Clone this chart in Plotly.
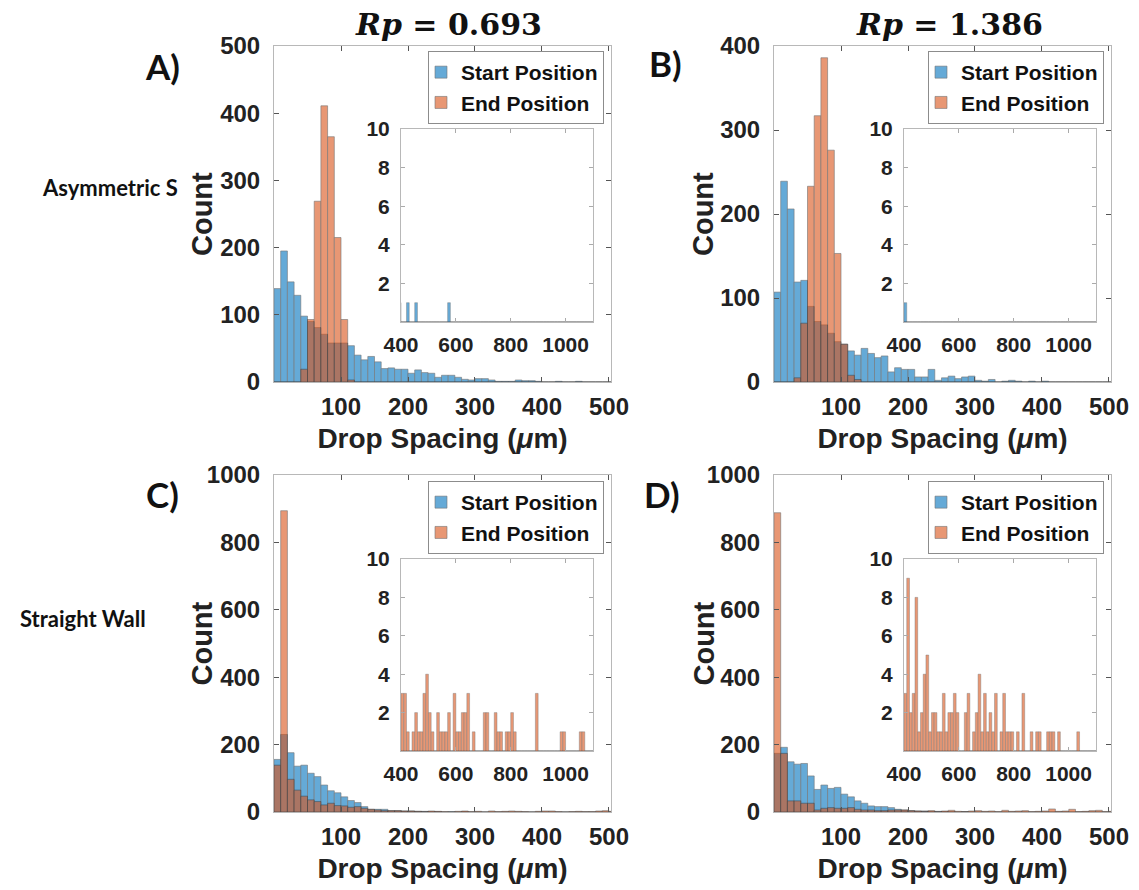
import plotly.graph_objects as go

W, H = 1139, 890
BLUE = "#0072BD"
ORANGE = "#D95319"
SANS = "Liberation Sans, Arial, sans-serif"

# ---------------- data: histogram counts, bin width 10 um ----------------
BIN = 10
lo_bin_left = list(range(0, 400, BIN))        # 0..390
all_bin_left = list(range(0, 1100, BIN))      # 0..1090

# Panel A (Asymmetric S, Rp = 0.693)
a_start_lo = [139, 195, 149, 129, 98, 90, 81, 71, 58, 58,
              58, 54, 40, 33, 38, 30, 20, 21, 19, 19,
              13, 18, 14, 13, 7, 10, 10, 7, 4, 3,
              5, 5, 3, 1, 1, 1, 3, 2, 2, 1]
a_end_lo = [0, 0, 0, 0, 19, 93, 269, 411, 365, 215,
            93, 3, 0, 0, 0, 0, 0, 0, 0, 0,
            0, 0, 0, 0, 0, 0, 0, 0, 0, 0,
            0, 0, 0, 0, 0, 0, 0, 0, 0, 0]
a_start_tail = {420: 1, 450: 1, 570: 1}
a_end_tail = {}

# Panel B (Asymmetric S, Rp = 1.386)
b_start_lo = [107, 239, 206, 119, 121, 90, 72, 68, 58, 48,
              45, 37, 32, 40, 34, 29, 31, 12, 17, 15,
              15, 6, 6, 15, 2, 5, 7, 4, 6, 7,
              2, 1, 3, 0, 1, 2, 1, 0, 1, 0]
b_end_lo = [0, 0, 0, 5, 70, 233, 317, 386, 276, 153,
            45, 8, 3, 0, 0, 0, 0, 0, 0, 0,
            0, 0, 0, 0, 0, 0, 0, 0, 0, 0,
            0, 0, 0, 0, 0, 0, 0, 0, 0, 0]
b_start_tail = {400: 1}
b_end_tail = {}

# Panel C (Straight Wall, Rp = 0.693)
c_start_lo = [156, 230, 176, 136, 139, 115, 105, 80, 63, 57,
              45, 34, 28, 16, 8, 8, 8, 4, 4, 3,
              3, 2, 2, 1, 1, 0, 1, 0, 1, 0,
              0, 0, 0, 0, 0, 0, 0, 0, 0, 0]
c_end_lo = [139, 894, 97, 65, 47, 36, 31, 21, 26, 19,
            18, 14, 16, 11, 8, 6, 4, 4, 4, 3,
            3, 2, 1, 3, 2, 1, 0, 2, 3, 1,
            2, 0, 3, 1, 2, 3, 2, 1, 0, 2]
c_start_tail = {}
c_end_tail = {400: 3, 410: 3, 420: 1, 440: 1, 450: 2, 460: 1, 470: 1, 480: 3,
              490: 4, 500: 2, 510: 1, 530: 2, 540: 1, 550: 1, 560: 1, 570: 2,
              590: 3, 600: 1, 610: 1, 620: 2, 630: 2, 640: 3, 660: 1, 700: 2,
              710: 2, 740: 2, 750: 1, 760: 1, 780: 1, 790: 1, 800: 2, 810: 1,
              890: 3, 980: 1, 990: 1, 1050: 1, 1060: 1}

# Panel D (Straight Wall, Rp = 1.386)
d_start_lo = [174, 192, 149, 142, 144, 107, 67, 80, 70, 73,
              53, 45, 33, 26, 18, 16, 16, 13, 8, 6,
              4, 3, 3, 2, 2, 1, 1, 0, 1, 0,
              0, 0, 0, 0, 0, 0, 0, 0, 0, 0]
d_end_lo = [888, 174, 33, 33, 26, 26, 6, 11, 13, 11,
            11, 13, 8, 6, 6, 4, 4, 6, 6, 6,
            4, 3, 2, 4, 1, 3, 5, 2, 1, 3,
            4, 2, 3, 1, 5, 2, 3, 4, 1, 2]
d_start_tail = {}
d_end_tail = {400: 3, 410: 9, 420: 2, 430: 3, 440: 8, 450: 1, 460: 2, 470: 4,
              480: 5, 490: 1, 500: 2, 510: 2, 520: 1, 530: 1, 540: 3, 550: 1,
              560: 2, 570: 2, 580: 3, 590: 2, 620: 2, 630: 3, 650: 1, 660: 2,
              670: 4, 680: 1, 690: 3, 700: 1, 710: 2, 720: 1, 730: 3, 750: 1,
              760: 3, 770: 1, 780: 1, 790: 1, 810: 1, 830: 3, 860: 1, 880: 1,
              890: 1, 920: 1, 930: 1, 940: 1, 960: 1, 1030: 1}

series_names = ["Start Position", "End Position"]
col_titles = ["Rp = 0.693", "Rp = 1.386"]
row_titles = ["Asymmetric S", "Straight Wall"]
panel_letters = ["A)", "B)", "C)", "D)"]
x_title = "Drop Spacing (<i>μ</i>m)"
y_title = "Count"
main_ymax = [500, 400, 1000, 1000]
main_ystep = [100, 100, 200, 200]
main_xticks = [100, 200, 300, 400, 500]
inset_xticks = [400, 600, 800, 1000]
inset_yticks = [2, 4, 6, 8, 10]


def full_counts(lo, tail):
    counts = dict(zip(lo_bin_left, lo))
    counts.update(tail)
    return [counts.get(b, 0) for b in all_bin_left]


data = [
    (full_counts(a_start_lo, a_start_tail), full_counts(a_end_lo, a_end_tail)),
    (full_counts(b_start_lo, b_start_tail), full_counts(b_end_lo, b_end_tail)),
    (full_counts(c_start_lo, c_start_tail), full_counts(c_end_lo, c_end_tail)),
    (full_counts(d_start_lo, d_start_tail), full_counts(d_end_lo, d_end_tail)),
]
centers = [b + BIN / 2 for b in all_bin_left]

# ---------------- layout geometry (pixels) ----------------
main_box = [  # x0, x1, y0(top), y1(bottom)
    (274, 611, 46, 382),
    (774, 1111, 46, 382),
    (274, 611, 475, 812),
    (774, 1111, 475, 812),
]
inset_box = [
    (401, 593, 129, 322),
    (904, 1096, 129, 322),
    (401, 593, 559, 751),
    (904, 1096, 559, 751),
]
legend_anchor = [(604, 51), (1104, 51), (604, 481), (1104, 481)]
count_label_x = [202, 703, 201, 703]


def xd(a, b):
    return [a / W, b / W]


def yd(top, bottom):
    return [1 - bottom / H, 1 - top / H]


fig = go.Figure()
colors = [BLUE, ORANGE]

for i in range(4):
    n = i + 1
    mx = "x" if n == 1 else f"x{n}"
    my = "y" if n == 1 else f"y{n}"
    ix, iy = f"x{n + 4}", f"y{n + 4}"
    lid = "legend" if n == 1 else f"legend{n}"
    for s in range(2):
        fig.add_trace(go.Bar(
            x=centers, y=data[i][s], width=BIN, name=series_names[s],
            marker=dict(color=colors[s], line=dict(color="#1a1a1a", width=0.6)),
            opacity=0.6, xaxis=mx, yaxis=my, legend=lid, showlegend=True,
        ))
    for s in range(2):
        fig.add_trace(go.Bar(
            x=centers, y=data[i][s], width=BIN, name=series_names[s],
            marker=dict(color=colors[s], line=dict(color="#1a1a1a", width=0.4)),
            opacity=0.6, xaxis=ix, yaxis=iy, showlegend=False,
        ))

layout = dict(
    width=W, height=H, margin=dict(l=0, r=0, t=0, b=0, autoexpand=False),
    paper_bgcolor="white", plot_bgcolor="white",
    barmode="overlay", showlegend=True,
    font=dict(family=SANS, color="#222222"),
)

axis_common = dict(
    showgrid=False, zeroline=False, showline=True, linecolor="#b8b8b8",
    linewidth=1, mirror="ticks", ticks="inside", ticklen=5,
    tickcolor="#555555", tickwidth=1, automargin=False,
)

annotations = []

for i in range(4):
    n = i + 1
    kx = "xaxis" if n == 1 else f"xaxis{n}"
    ky = "yaxis" if n == 1 else f"yaxis{n}"
    x0, x1, y0, y1 = main_box[i]
    ymax = main_ymax[i]
    layout[kx] = dict(
        axis_common, domain=xd(x0, x1), range=[0, 503], anchor="y" if n == 1 else f"y{n}",
        tickmode="array", tickvals=main_xticks,
        tickfont=dict(size=24, family=SANS, weight="bold", color="#222222"),
        ticklabelstandoff=3,
        title=dict(text=x_title, standoff=9,
                   font=dict(size=28, family=SANS, weight="bold", color="#222222")),
    )
    layout[ky] = dict(
        axis_common, domain=yd(y0, y1), range=[0, ymax], anchor="x" if n == 1 else f"x{n}",
        tickmode="array", tickvals=list(range(0, ymax + 1, main_ystep[i])),
        tickfont=dict(size=24, family=SANS, weight="bold", color="#222222"),
        ticklabelstandoff=8,
    )
    # y-axis title placed as rotated text beside the tick labels
    annotations.append(dict(
        text=y_title, textangle=-90, x=count_label_x[i] / W, y=1 - (y0 + y1) / 2 / H,
        xref="paper", yref="paper", showarrow=False, xanchor="center", yanchor="middle",
        font=dict(size=29, family=SANS, weight="bold", color="#222222"),
    ))
    # inset
    ix0, ix1, iy0, iy1 = inset_box[i]
    layout[f"xaxis{n + 4}"] = dict(
        axis_common, domain=xd(ix0, ix1), range=[400, 1100], anchor=f"y{n + 4}",
        tickmode="array", tickvals=inset_xticks, ticklen=4, tickcolor="#aaaaaa",
        tickfont=dict(size=21, family=SANS, weight="bold", color="#222222"),
        ticklabelstandoff=4,
    )
    layout[f"yaxis{n + 4}"] = dict(
        axis_common, domain=yd(iy0, iy1), range=[0, 10], anchor=f"x{n + 4}",
        tickmode="array", tickvals=inset_yticks, ticklen=4, tickcolor="#aaaaaa",
        tickfont=dict(size=21, family=SANS, weight="bold", color="#222222"),
        ticklabelstandoff=6,
    )
    lx, ly = legend_anchor[i]
    lid = "legend" if n == 1 else f"legend{n}"
    layout[lid] = dict(
        x=lx / W, y=1 - ly / H, xanchor="right", yanchor="top",
        bgcolor="white", bordercolor="#8c8c8c", borderwidth=1,
        font=dict(size=21, family=SANS, weight="bold", color="#111111"),
        itemwidth=30, tracegroupgap=0, indentation=-8,
    )

title_x = [448, 949]
for c in range(2):
    rp, val = col_titles[c].split(" = ")
    annotations.append(dict(
        text=f"<i>{rp}</i> = {val}", x=title_x[c] / W, y=1 - 25 / H,
        xref="paper", yref="paper", showarrow=False, xanchor="center", yanchor="middle",
        font=dict(size=30, family="DejaVu Serif, serif", weight="bold", color="#111111"),
    ))
letter_pos = [(162, 66), (665, 63), (162, 494), (662, 494)]
for i in range(4):
    lx, ly = letter_pos[i]
    annotations.append(dict(
        text=panel_letters[i], x=lx / W, y=1 - ly / H, xref="paper", yref="paper",
        showarrow=False, xanchor="center", yanchor="middle",
        font=dict(size=35, family="Lato, sans-serif", weight="bold", color="#111111"),
    ))
row_pos = [(40, 188), (18, 618)]
for r in range(2):
    rx, ry = row_pos[r]
    annotations.append(dict(
        text=row_titles[r], x=rx / W, y=1 - ry / H, xref="paper", yref="paper",
        showarrow=False, xanchor="left", yanchor="middle",
        font=dict(size=22, family="Lato, sans-serif", weight="bold", color="#111111"),
    ))
layout["annotations"] = annotations

fig.update_layout(layout)
fig.write_html("out.html")
